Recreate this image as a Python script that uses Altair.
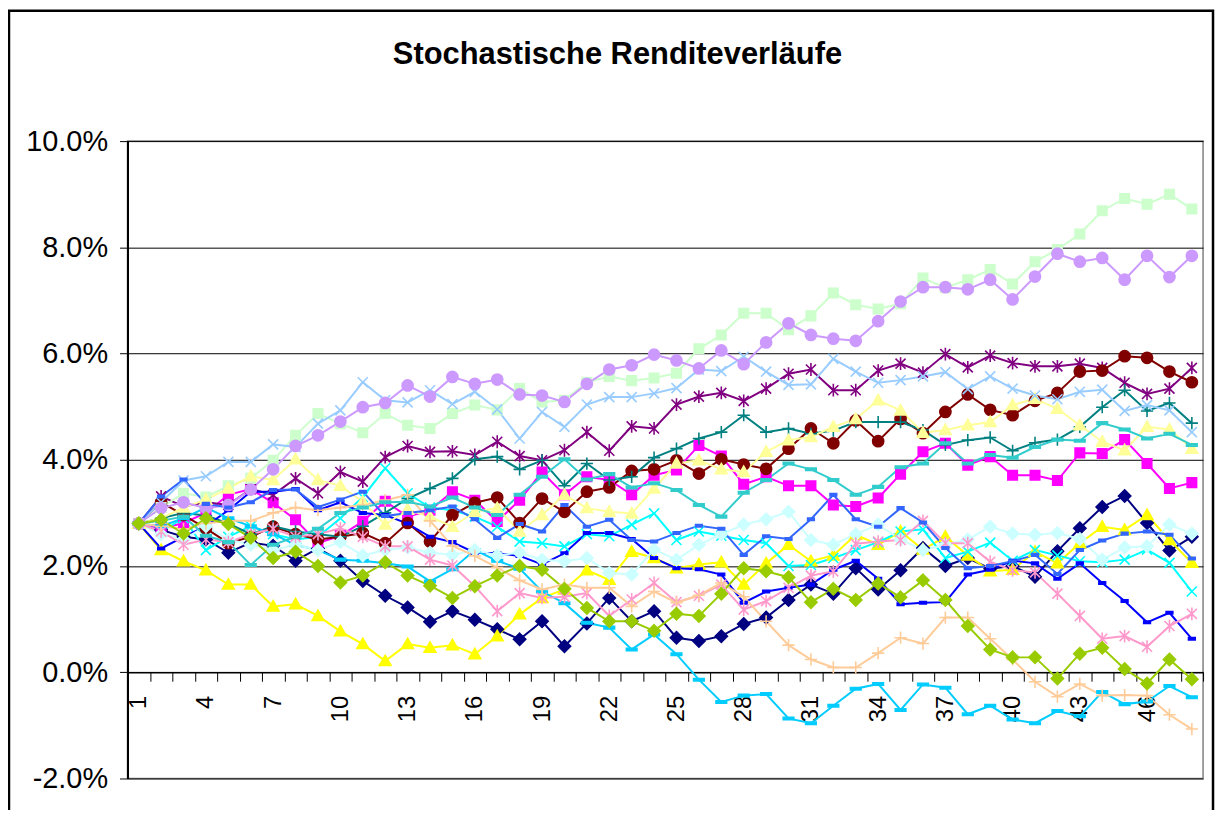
import altair as alt
import pandas as pd

periods = list(range(1, 49))

series_names = ["S01", "S02", "S03", "S04", "S05", "S06", "S07", "S08", "S09", "S10",
                "S11", "S12", "S13", "S14", "S15", "S16", "S17", "S18", "S19"]
series_colors = ["#000080", "#FF00FF", "#FFFF00", "#00FFFF", "#800080", "#800000", "#008080",
                 "#0000FF", "#00CCFF", "#CCFFFF", "#CCFFCC", "#FFFF99", "#99CCFF", "#FF99CC",
                 "#CC99FF", "#FFCC99", "#3366FF", "#33CCCC", "#99CC00"]
series_markers = ["diamond", "square", "triangle", "x", "star", "circle", "plus", "dash", "longdash",
                  "diamond", "square", "triangle", "x", "star", "circle", "plus", "dash", "longdash",
                  "diamond"]

s01 = [2.8, 2.68, 2.55, 2.5, 2.25, 2.44, 2.38, 2.1, 2.33, 2.1, 1.72, 1.44, 1.22, 0.95, 1.15, 0.99,
       0.81, 0.62, 0.96, 0.49, 0.92, 1.40, 0.96, 1.15, 0.65, 0.59, 0.68, 0.91, 1.03, 1.36, 1.65, 1.48,
       1.96, 1.56, 1.92, 2.34, 2.0, 2.15, 1.95, 2.0, 1.8, 2.28, 2.71, 3.11, 3.32, 2.81, 2.29, 2.55]
s02 = [2.8, 2.7, 2.81, 3.0, 3.34, 3.45, 3.19, 2.87, 2.43, 2.57, 2.84, 3.22, 2.93, 3.05, 3.4, 3.24,
       2.84, 3.24, 3.77, 3.34, 3.68, 3.62, 3.34, 3.71, 3.81, 4.27, 4.07, 3.54, 3.68, 3.51, 3.51, 3.15,
       3.12, 3.28, 3.73, 4.15, 4.31, 3.90, 4.06, 3.71, 3.71, 3.61, 4.13, 4.12, 4.38, 3.93, 3.46, 3.57]
s03 = [2.8, 2.3, 2.09, 1.92, 1.65, 1.65, 1.24, 1.28, 1.06, 0.77, 0.53, 0.21, 0.53, 0.46, 0.51, 0.34,
       0.68, 1.09, 1.40, 1.56, 1.92, 1.74, 2.27, 2.15, 1.96, 2.03, 2.07, 1.65, 2.05, 2.4, 2.09, 2.2,
       2.59, 2.4, 2.65, 2.31, 2.55, 2.2, 1.9, 1.93, 2.27, 2.05, 2.43, 2.74, 2.68, 2.96, 2.49, 2.06]
s04 = [2.8, 2.65, 2.9, 2.3, 2.55, 2.75, 2.6, 2.5, 2.55, 2.9, 3.3, 3.84, 3.37, 3.1, 3.05, 2.93,
       2.74, 2.46, 2.43, 2.37, 2.6, 2.56, 2.78, 2.99, 2.49, 2.65, 2.57, 2.49, 2.43, 2.0, 2.02, 2.15,
       2.3, 2.45, 2.65, 2.69, 2.15, 2.27, 2.44, 2.1, 2.3, 2.2, 2.09, 2.07, 2.12, 2.31, 2.06, 1.52]
s05 = [2.8, 3.31, 3.12, 3.2, 3.15, 3.45, 3.34, 3.65, 3.37, 3.77, 3.59, 4.05, 4.26, 4.15, 4.16, 4.09,
       4.34, 4.07, 3.99, 4.18, 4.52, 4.17, 4.63, 4.59, 5.04, 5.19, 5.26, 5.11, 5.34, 5.62, 5.70, 5.31,
       5.31, 5.68, 5.81, 5.64, 5.99, 5.74, 5.96, 5.82, 5.76, 5.76, 5.81, 5.73, 5.45, 5.24, 5.34, 5.73]
s06 = [2.8, 3.2, 2.96, 2.71, 2.43, 2.55, 2.74, 2.6, 2.5, 2.55, 2.62, 2.43, 2.81, 2.46, 2.96, 3.19,
       3.29, 2.81, 3.27, 3.02, 3.4, 3.48, 3.79, 3.82, 3.99, 3.74, 4.01, 3.91, 3.83, 4.21, 4.59, 4.31,
       4.74, 4.35, 4.77, 4.5, 4.90, 5.23, 4.94, 4.84, 5.11, 5.26, 5.66, 5.68, 5.95, 5.92, 5.66, 5.46]
s07 = [2.8, 2.9, 3.0, 2.95, 2.8, 2.6, 2.75, 2.65, 2.6, 2.55, 2.75, 3.0, 3.27, 3.46, 3.65, 4.01,
       4.06, 3.82, 3.99, 3.51, 3.93, 3.62, 3.68, 4.04, 4.21, 4.40, 4.52, 4.84, 4.52, 4.59, 4.49, 4.55,
       4.71, 4.71, 4.71, 4.56, 4.28, 4.37, 4.42, 4.17, 4.32, 4.38, 4.62, 4.99, 5.31, 4.92, 5.07, 4.69]
s08 = [2.8, 2.33, 2.55, 2.75, 3.05, 3.4, 3.4, 3.45, 3.05, 3.2, 3.0, 2.96, 2.8, 2.55, 2.45, 2.25,
       2.24, 2.19, 2.03, 2.24, 2.62, 2.62, 2.51, 2.15, 1.96, 1.94, 1.84, 1.31, 1.52, 1.59, 1.65, 1.93,
       2.1, 1.76, 1.28, 1.31, 1.32, 1.84, 1.93, 2.1, 2.05, 1.76, 2.05, 1.68, 1.34, 0.94, 1.12, 0.63]
s09 = [2.8, 2.75, 2.9, 3.1, 2.9, 2.75, 2.6, 2.4, 2.3, 2.12, 2.1, 2.05, 1.99, 1.71, 1.94, 2.3,
       2.1, 1.95, 1.52, 1.3, 0.93, 0.84, 0.43, 0.71, 0.34, -0.14, -0.56, -0.44, -0.41, -0.87, -0.96, -0.63,
       -0.31, -0.22, -0.71, -0.23, -0.29, -0.79, -0.63, -0.89, -0.96, -0.73, -0.83, -0.37, -0.6, -0.55, -0.26, -0.47]
s10 = [2.8, 2.6, 2.5, 2.75, 2.5, 2.4, 2.3, 2.4, 2.3, 2.45, 2.2, 2.3, 2.35, 2.25, 2.21, 2.3,
       2.2, 2.25, 2.12, 2.09, 2.15, 1.87, 1.84, 2.31, 2.12, 2.40, 2.6, 2.78, 2.88, 3.02, 2.49, 2.40,
       2.6, 2.78, 2.5, 2.3, 2.4, 2.5, 2.74, 2.61, 2.59, 2.62, 2.51, 2.12, 2.35, 2.37, 2.78, 2.61]
s11 = [2.8, 3.1, 3.37, 3.3, 3.51, 3.65, 3.99, 4.46, 4.87, 4.68, 4.51, 4.87, 4.65, 4.59, 4.87, 5.03,
       4.94, 5.34, 5.09, 5.12, 5.46, 5.57, 5.49, 5.54, 5.63, 6.09, 6.35, 6.76, 6.76, 6.45, 6.71, 7.14,
       6.92, 6.84, 6.94, 7.42, 7.24, 7.39, 7.58, 7.31, 7.73, 7.96, 8.25, 8.69, 8.92, 8.81, 9.0, 8.72]
s12 = [2.8, 2.9, 3.1, 3.25, 3.46, 3.69, 3.62, 4.01, 3.62, 3.51, 3.21, 2.78, 3.06, 2.93, 2.74, 3.02,
       3.09, 2.65, 2.96, 3.34, 3.09, 3.02, 2.99, 3.46, 3.93, 3.99, 3.82, 3.77, 4.15, 4.37, 4.43, 4.62,
       4.77, 5.12, 4.93, 4.51, 4.56, 4.65, 4.71, 5.03, 5.15, 4.96, 4.65, 4.34, 4.18, 4.62, 4.57, 4.21]
s13 = [2.8, 3.2, 3.61, 3.69, 3.96, 3.96, 4.29, 4.24, 4.68, 4.93, 5.46, 5.12, 5.08, 5.31, 5.05, 5.28,
       4.95, 4.40, 4.90, 4.62, 5.04, 5.18, 5.18, 5.25, 5.35, 5.70, 5.67, 5.94, 5.66, 5.41, 5.42, 5.90,
       5.66, 5.45, 5.50, 5.57, 5.65, 5.33, 5.57, 5.34, 5.21, 5.14, 5.28, 5.32, 4.92, 5.03, 4.93, 4.52]
s14 = [2.8, 2.65, 2.4, 2.5, 2.45, 2.6, 2.7, 2.55, 2.6, 2.71, 2.55, 2.37, 2.37, 2.12, 2.01, 1.62,
       1.15, 1.49, 1.40, 1.42, 1.49, 1.06, 1.37, 1.68, 1.32, 1.44, 1.65, 1.18, 1.34, 1.59, 1.82, 1.90,
       2.42, 2.46, 2.49, 2.85, 2.43, 2.43, 2.08, 1.92, 1.88, 1.48, 1.06, 0.63, 0.68, 0.48, 0.87, 1.10]
s15 = [2.8, 3.09, 3.2, 3.09, 3.15, 3.44, 3.82, 4.26, 4.46, 4.72, 4.99, 5.07, 5.40, 5.19, 5.56, 5.43,
       5.51, 5.23, 5.21, 5.09, 5.43, 5.70, 5.78, 5.98, 5.87, 5.72, 6.06, 5.80, 6.21, 6.57, 6.35, 6.28,
       6.24, 6.61, 6.98, 7.25, 7.25, 7.21, 7.39, 7.02, 7.45, 7.88, 7.73, 7.80, 7.39, 7.84, 7.44, 7.84]
s16 = [2.8, 2.75, 2.7, 2.8, 2.85, 2.85, 3.0, 3.1, 3.05, 3.1, 3.15, 3.24, 3.34, 2.85, 2.38, 2.19,
       1.97, 1.73, 1.56, 1.65, 1.59, 1.59, 1.24, 1.52, 1.31, 1.45, 1.68, 1.42, 0.96, 0.51, 0.24, 0.09,
       0.09, 0.36, 0.65, 0.54, 1.03, 1.03, 0.63, 0.24, -0.18, -0.46, -0.22, -0.44, -0.43, -0.44, -0.80, -1.07]
s17 = [2.8, 3.31, 3.63, 3.17, 3.1, 3.2, 3.43, 3.44, 3.11, 3.25, 3.4, 2.94, 3.0, 3.05, 3.12, 2.88,
       2.53, 2.79, 2.65, 3.15, 2.74, 2.87, 2.49, 2.46, 2.62, 2.76, 2.70, 2.21, 2.56, 2.51, 2.88, 3.34,
       2.88, 2.74, 3.09, 2.82, 2.34, 1.96, 2.0, 2.09, 2.21, 1.85, 2.3, 2.48, 2.61, 2.65, 2.59, 2.14]
s18 = [2.8, 2.85, 2.93, 2.57, 2.45, 2.02, 2.4, 2.55, 2.7, 3.0, 3.1, 3.2, 3.21, 3.12, 3.29, 3.10,
       2.96, 3.34, 3.68, 4.01, 3.63, 3.73, 3.48, 3.56, 3.43, 3.15, 2.93, 3.38, 3.62, 3.93, 3.82, 3.62,
       3.34, 3.49, 3.86, 3.93, 4.31, 3.93, 4.09, 4.04, 4.24, 4.38, 4.36, 4.69, 4.57, 4.40, 4.49, 4.28]
s19 = [2.8, 2.87, 2.61, 2.9, 2.79, 2.53, 2.15, 2.27, 2.0, 1.69, 1.82, 2.07, 1.82, 1.63, 1.40, 1.62,
       1.82, 2.0, 1.93, 1.57, 1.21, 0.96, 0.96, 0.78, 1.10, 1.06, 1.48, 1.96, 1.90, 1.79, 1.32, 1.57,
       1.36, 1.67, 1.41, 1.73, 1.36, 0.87, 0.43, 0.28, 0.28, -0.12, 0.35, 0.46, 0.06, -0.21, 0.24, -0.13]

series_values = [s01, s02, s03, s04, s05, s06, s07, s08, s09, s10,
                 s11, s12, s13, s14, s15, s16, s17, s18, s19]

y_ticks = [-2, 0, 2, 4, 6, 8, 10]
title_text = "Stochastische Renditeverläufe"

marker_paths = {
    "diamond": "M0,-1.1L1.1,0L0,1.1L-1.1,0Z",
    "square": "M-0.85,-0.85L0.85,-0.85L0.85,0.85L-0.85,0.85Z",
    "triangle": "M0,-1.05L1.05,0.8L-1.05,0.8Z",
    "x": "M-0.9,-0.9L0.9,0.9M-0.9,0.9L0.9,-0.9",
    "star": "M-0.9,-0.9L0.9,0.9M-0.9,0.9L0.9,-0.9M0,-1.15L0,1.15",
    "circle": "circle",
    "plus": "M-1.1,0L1.1,0M0,-1.1L0,1.1",
    "dash": "M-0.6,-0.22L0.6,-0.22L0.6,0.22L-0.6,0.22Z",
    "longdash": "M-0.95,-0.22L0.95,-0.22L0.95,0.22L-0.95,0.22Z",
}
shape_range = [marker_paths[m] for m in series_markers]

rows = []
for name, vals in zip(series_names, series_values):
    for t, v in zip(periods, vals):
        rows.append({"series": name, "t": t, "v": v})
df = pd.DataFrame(rows)

W, H = 1080, 640
FONT = "Liberation Sans"

x_enc = alt.X(
    "t:O",
    scale=alt.Scale(type="band", paddingInner=0, paddingOuter=0),
    axis=alt.Axis(
        title=None,
        labelAngle=270,
        labelAlign="right",
        labelBaseline="middle",
        labelExpr="(datum.value - 1) % 3 == 0 ? datum.label : ''",
        labelOverlap=False,
        labelFontSize=24,
        labelFont=FONT,
        labelColor="black",
        labelPadding=14,
        tickBand="extent",
        tickColor="black",
        tickSize=9,
        tickWidth=1,
        domainColor="black",
        domainWidth=1.5,
        grid=False,
        offset=-H * 2 / 12,
    ),
)
y_enc = alt.Y(
    "v:Q",
    scale=alt.Scale(domain=[-2, 10], nice=False, zero=False),
    axis=alt.Axis(
        title=None,
        values=y_ticks,
        labelExpr="(datum.value < 0 ? '-' : '') + format(abs(datum.value), '.1f') + '%'",
        labelFontSize=29,
        labelFont=FONT,
        labelColor="black",
        labelPadding=12,
        tickColor="black",
        tickSize=8,
        domainColor="black",
        domainWidth=2,
        grid=True,
        gridColor="black",
        gridWidth=1,
    ),
)

color_scale = alt.Scale(domain=series_names, range=series_colors)

lines = alt.Chart(df).mark_line(strokeWidth=2).encode(
    x=x_enc, y=y_enc,
    color=alt.Color("series:N", scale=color_scale, legend=None),
)
points = alt.Chart(df).mark_point(filled=True, size=125, strokeWidth=1.6, opacity=1).encode(
    x=x_enc, y=y_enc,
    shape=alt.Shape("series:N", scale=alt.Scale(domain=series_names, range=shape_range), legend=None),
    fill=alt.Fill("series:N", scale=color_scale, legend=None),
    stroke=alt.Stroke("series:N", scale=color_scale, legend=None),
)
title_df = pd.DataFrame({"label": [title_text]})
title_mark = alt.Chart(title_df).mark_text(
    fontSize=31, fontWeight="bold", font=FONT, color="black",
    align="center", baseline="alphabetic",
).encode(text="label:N", x=alt.value(492), y=alt.value(-77))

frame = alt.Chart(pd.DataFrame({"a": [0]})).mark_rect(
    filled=False, stroke="black", strokeWidth=2.5
).encode(
    x=alt.value(-119), x2=alt.value(1090), y=alt.value(-131), y2=alt.value(720)
)

chart = alt.layer(frame, lines, points, title_mark).properties(
    width=W,
    height=H,
    autosize=alt.AutoSizeParams(type="none"),
    padding={"left": 120, "top": 132, "right": 14, "bottom": 30},
).configure_view(stroke="#808080", strokeWidth=1.5)

chart.save("out.html", embed_options={"renderer": "svg", "actions": False})
